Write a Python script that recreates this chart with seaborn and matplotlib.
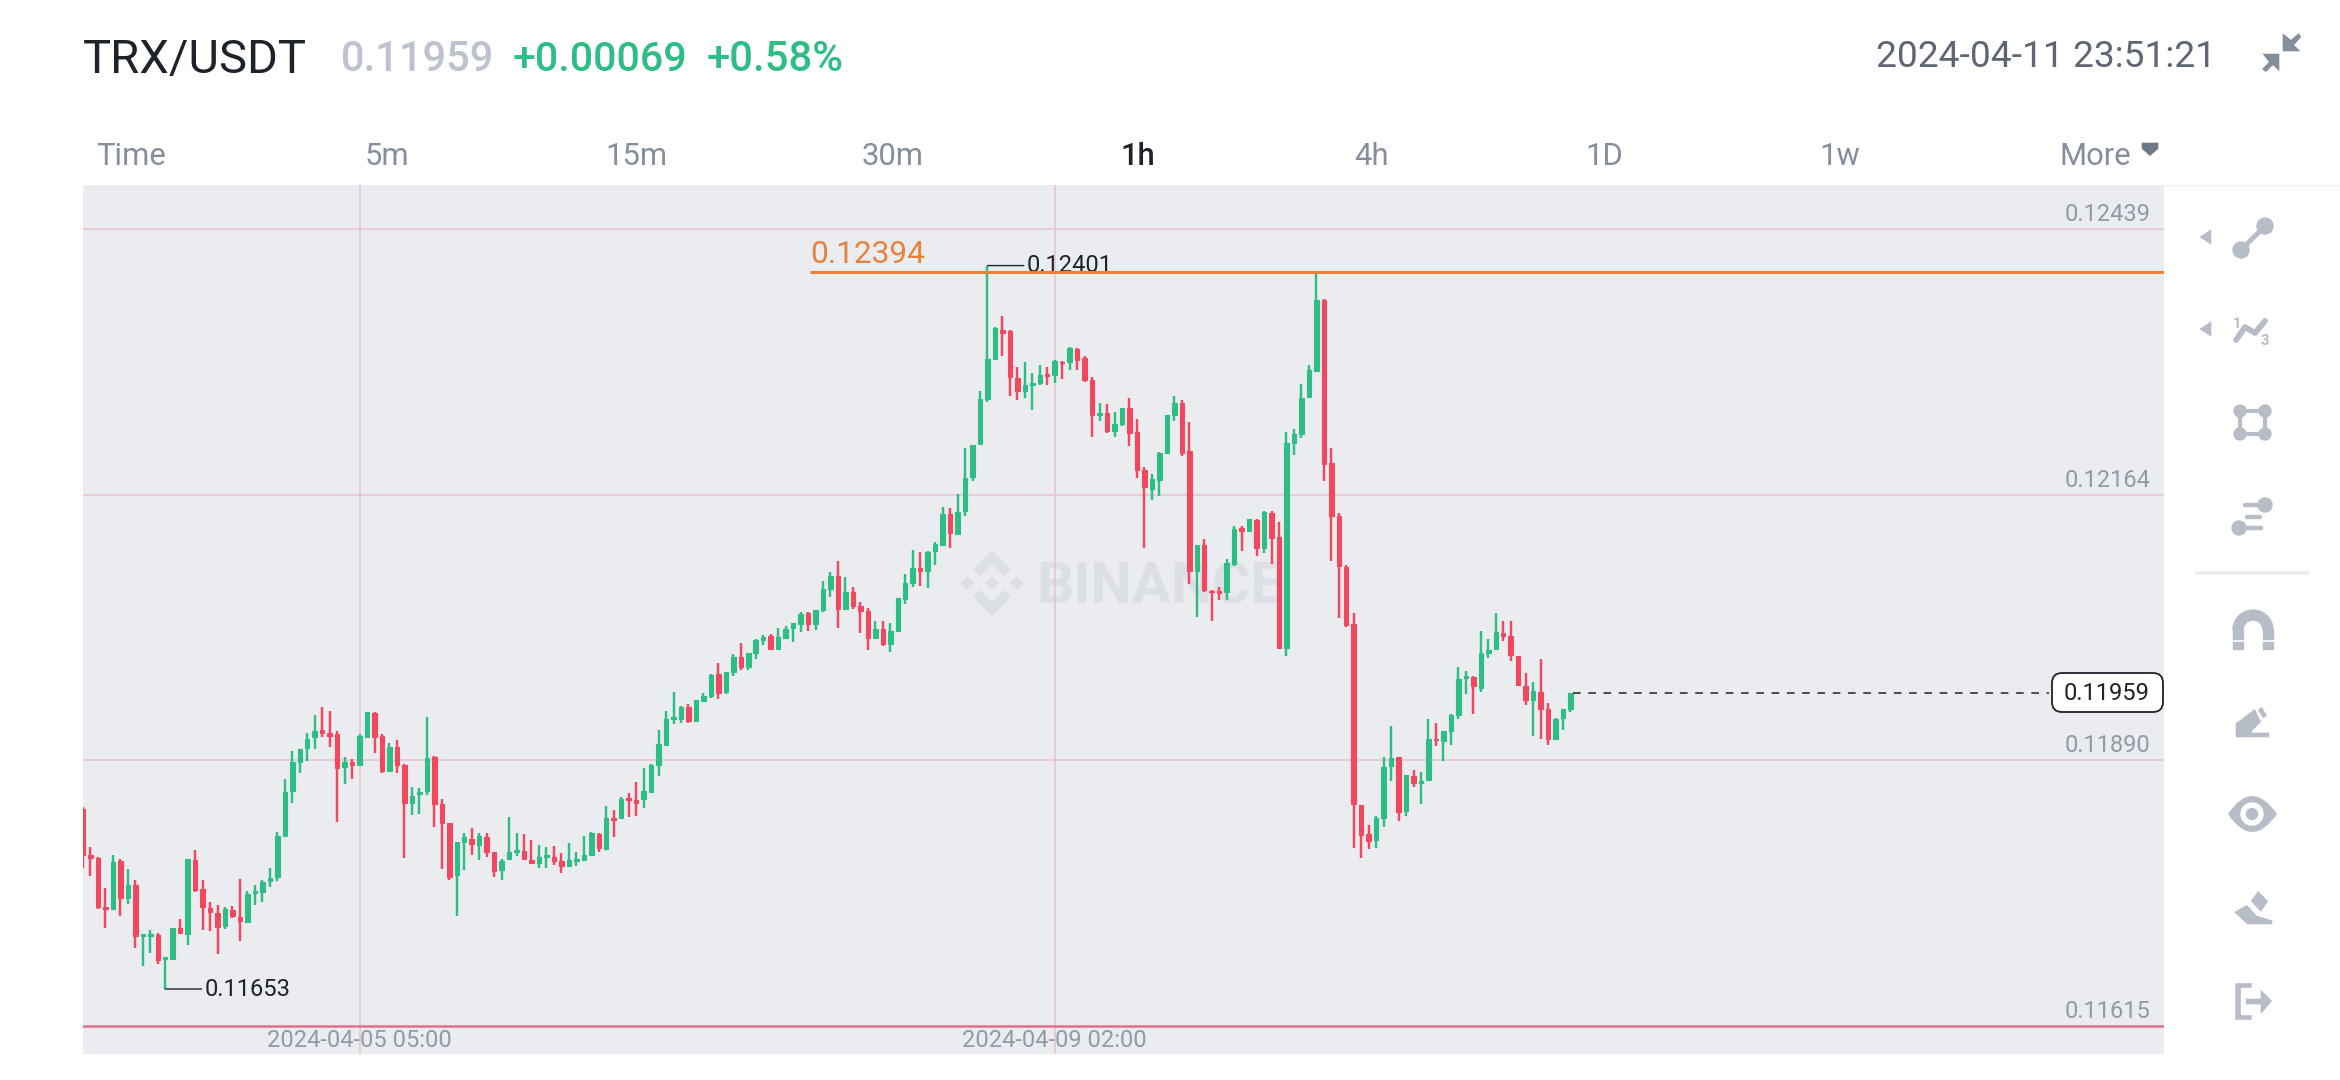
import numpy as np
import pandas as pd
import seaborn as sns
import matplotlib.pyplot as plt
from matplotlib.patches import Polygon, Circle, Rectangle, Wedge, FancyBboxPatch, PathPatch
from matplotlib.path import Path

# candles, in units of 0.00001 USDT
highs = np.array([
    11841,11800,11789,11757,11792,11787,11777,11766,11710,11714,
    11711,11686,11716,11725,11787,11797,11766,11743,11740,11738,
    11739,11767,11754,11761,11766,11778,11815,11870,11899,11901,
    11918,11936,11945,11940,11920,11893,11891,11917,11939,11939,
    11917,11907,11910,11886,11862,11861,11934,11894,11849,11825,
    11805,11814,11819,11814,11814,11795,11787,11831,11814,11813,
    11807,11802,11800,11801,11794,11804,11795,11811,11815,11814,
    11842,11838,11852,11856,11867,11881,11886,11921,11940,11960,
    11946,11948,11952,11959,11979,11990,11981,11999,12011,12000,
    12015,12019,12020,12026,12028,12031,12043,12043,12045,12075,
    12084,12096,12079,12069,12053,12047,12034,12034,12031,12057,
    12082,12107,12105,12106,12115,12151,12150,12165,12212,12215,
    12271,12401,12337,12349,12334,12296,12301,12290,12298,12296,
    12303,12302,12317,12316,12307,12286,12259,12258,12250,12254,
    12264,12242,12193,12186,12208,12247,12266,12262,12239,12112,
    12118,12066,12069,12098,12132,12132,12139,12139,12147,12147,
    12136,12229,12232,12279,12298,12394,12366,12212,12145,12091,
    12042,11843,11823,11832,11893,11925,11893,11874,11879,11877,
    11932,11928,11920,11937,11986,11982,11977,12023,12015,12042,
    12033,12033,11997,11980,11970,11994,11949,11933,11942,11959]) / 1e5
opens = np.array([
    11839,11792,11788,11738,11736,11785,11747,11761,11708,11708,
    11709,11684,11684,11716,11710,11786,11756,11737,11732,11718,
    11735,11727,11722,11752,11753,11765,11769,11811,11858,11888,
    11902,11914,11921,11918,11917,11883,11888,11885,11914,11938,
    11915,11878,11903,11885,11845,11855,11858,11893,11844,11825,
    11771,11805,11808,11802,11810,11795,11776,11787,11795,11796,
    11786,11783,11790,11789,11785,11780,11785,11786,11792,11813,
    11798,11830,11830,11850,11848,11849,11857,11885,11905,11932,
    11932,11945,11930,11951,11956,11979,11960,11981,11996,11986,
    12000,12014,12018,12005,12016,12026,12030,12042,12030,12045,
    12067,12080,12046,12063,12049,12044,12016,12025,12010,12023,
    12056,12073,12088,12085,12106,12112,12144,12123,12147,12182,
    12216,12263,12304,12334,12333,12285,12271,12278,12280,12289,
    12288,12301,12301,12315,12305,12283,12246,12249,12230,12237,
    12254,12229,12190,12170,12179,12207,12247,12259,12209,12085,
    12112,12065,12065,12064,12092,12130,12127,12138,12109,12145,
    12120,12006,12218,12227,12265,12292,12365,12197,12142,12089,
    12030,11843,11813,11807,11830,11884,11893,11837,11873,11866,
    11869,11912,11909,11920,11936,11975,11976,11964,12000,12005,
    12021,12018,11997,11966,11952,11960,11943,11911,11933,11943]) / 1e5
closes = np.array([
    11792,11788,11738,11736,11784,11747,11761,11708,11710,11710,
    11683,11686,11716,11711,11787,11755,11738,11733,11717,11736,
    11728,11723,11751,11754,11764,11768,11811,11857,11888,11901,
    11912,11920,11918,11915,11882,11888,11885,11915,11939,11914,
    11878,11903,11885,11845,11853,11857,11892,11844,11825,11769,
    11805,11810,11803,11811,11795,11775,11785,11795,11797,11787,
    11783,11789,11792,11785,11780,11786,11787,11792,11814,11799,
    11830,11828,11849,11848,11845,11858,11885,11906,11932,11934,
    11945,11930,11952,11956,11978,11959,11981,11996,11986,12000,
    12014,12017,12005,12017,12025,12031,12041,12030,12045,12067,
    12080,12046,12063,12049,12044,12016,12025,12010,12023,12057,
    12073,12088,12085,12105,12113,12144,12125,12146,12181,12215,
    12263,12304,12336,12331,12286,12271,12277,12280,12288,12287,
    12302,12300,12316,12303,12283,12246,12249,12230,12237,12254,
    12228,12190,12172,12180,12207,12246,12259,12207,12085,12112,
    12066,12063,12062,12093,12129,12127,12139,12109,12146,12119,
    12006,12218,12227,12264,12293,12365,12196,12142,12090,12029,
    11844,11812,11806,11830,11883,11892,11836,11874,11866,11868,
    11912,11910,11920,11936,11974,11977,11966,12000,12004,12022,
    12018,11998,11967,11952,11961,11943,11912,11932,11942,11959]) / 1e5
lows = np.array([
    11778,11770,11736,11716,11736,11728,11741,11695,11677,11690,
    11679,11653,11684,11710,11699,11753,11714,11713,11689,11715,
    11726,11703,11722,11740,11743,11758,11765,11811,11845,11876,
    11889,11901,11914,11903,11826,11865,11870,11885,11914,11897,
    11876,11877,11876,11788,11833,11834,11854,11820,11777,11766,
    11729,11776,11792,11786,11789,11769,11766,11787,11791,11787,
    11782,11778,11778,11781,11773,11780,11780,11786,11791,11795,
    11797,11810,11829,11831,11832,11840,11857,11873,11905,11927,
    11928,11928,11930,11950,11954,11953,11958,11977,11983,11983,
    11994,12009,12003,12004,12016,12012,12022,12023,12024,12043,
    12058,12026,12046,12046,12021,12004,12016,12008,12001,12023,
    12051,12069,12070,12068,12091,12112,12109,12122,12142,12178,
    12216,12260,12303,12308,12266,12262,12264,12252,12278,12277,
    12280,12284,12293,12293,12281,12224,12240,12228,12224,12235,
    12214,12181,12109,12159,12163,12207,12240,12204,12072,12038,
    12064,12033,12055,12055,12090,12106,12126,12101,12104,12092,
    12006,11997,12205,12223,12264,12292,12178,12096,12037,12027,
    11799,11788,11798,11799,11821,11868,11827,11832,11862,11844,
    11869,11904,11889,11905,11932,11958,11937,11960,11995,12005,
    12013,11992,11966,11947,11915,11912,11905,11911,11921,11939]) / 1e5

price_ticks = [0.12439, 0.12164, 0.11890, 0.11615]
date_labels = {38: "2024-04-05 05:00", 131: "2024-04-09 02:00"}
drawn_line = 0.123948  # shown rounded to 0.12394 on the chart
last_price = 0.11959
intervals = ["Time", "5m", "15m", "30m", "1h", "4h", "1D", "1w", "More"]
interval_x = [131, 387, 636, 893, 1138, 1371, 1604, 1840, 2095]

GREEN = "#2ebd85"
RED = "#f0485f"
PANEL = "#ebecf0"
GRID = "#e4c6d1"
ICON = "#b7bdc6"
GREY = "#929aa5"
INK = "#1e2329"
ORANGE = "#e8813a"

sns.set_theme(style="white", rc={"axes.linewidth": 0})
plt.rcParams["font.family"] = ["Roboto", "DejaVu Sans"]

fig = plt.figure(figsize=(23.4, 10.8), dpi=100, facecolor="white")

# price panel, placed in pixels of the 2340x1080 page
ax = fig.add_axes([83 / 2340, 1 - 1054 / 1080, (2164 - 83) / 2340, (1054 - 185) / 1080], zorder=1)
ax.set_facecolor(PANEL)

# page overlay for the header, toolbar and anything positioned in pixels
px = fig.add_axes([0, 0, 1, 1], zorder=5)
px.set_xlim(0, 2340)
px.set_ylim(1080, 0)
px.axis("off")

df = pd.DataFrame({"i": np.arange(1, len(opens) + 1), "open": opens, "close": closes})
df["base"] = df[["open", "close"]].min(axis=1)
df["body"] = (df["close"] - df["open"]).abs()
up = df[df["close"] >= df["open"]]
down = df[df["close"] < df["open"]]

ax.vlines(df["i"], lows, highs, colors=[GREEN if c >= o else RED for o, c in zip(opens, closes)],
          linewidth=1.75, zorder=3)
for part, col in [(up, GREEN), (down, RED)]:
    sns.barplot(data=part, x="i", y="body", bottom=part["base"].values, native_scale=True, errorbar=None,
                width=0.6, color=col, saturation=1, edgecolor=col, linewidth=0.8, zorder=4, ax=ax)

ax.set_xlim(1, 279.4)
ax.set_ylim(0.115858, 0.124843)
ax.set_xticks([])
ax.set_yticks([])
ax.set_xlabel("")
ax.set_ylabel("")

# grid
for p in price_ticks[:-1]:
    ax.axhline(p, color=GRID, lw=1.2, zorder=1)
ax.axhline(price_ticks[-1], color="#e0708f", lw=1.8, zorder=6)
for i in date_labels:
    ax.axvline(i, color=GRID, lw=1.2, zorder=1)

xf = ax.get_yaxis_transform()
for p in price_ticks:
    ax.annotate(f"{p:.5f}", (1, p), xycoords=xf, xytext=(-10, 5.5), textcoords="offset points",
                ha="right", va="baseline", fontsize=17, color=GREY, zorder=7)
for i, label in date_labels.items():
    ax.annotate(label, (i, 0), xycoords=ax.get_xaxis_transform(), xytext=(-0.5, 5), textcoords="offset points",
                ha="center", va="baseline", fontsize=17, color=GREY, zorder=7)

# high / low markers
for i, p, txt in [(12, 0.11653, "0.11653"), (122, 0.12401, "0.12401")]:
    ax.annotate(txt, (i, p), xytext=(28.5, 0), textcoords="offset points", ha="left", va="center",
                fontsize=17, color=INK, zorder=5,
                arrowprops=dict(arrowstyle="-", color=INK, lw=1, shrinkA=0, shrinkB=0))

# drawn line and its label
ax.plot([98.2, 279.4], [drawn_line, drawn_line], color=ORANGE, lw=2.2, zorder=6, solid_capstyle="butt")
ax.annotate("0.12394", (98.2, drawn_line), xytext=(0.5, 6), textcoords="offset points",
            ha="left", va="baseline", fontsize=22.8, color=ORANGE, zorder=7)

# last price
ax.plot([200.3, 264], [last_price, last_price], color=INK, lw=1.1, dashes=(5, 5), zorder=4)
px.add_patch(FancyBboxPatch((2060, 681), 95, 23, boxstyle="round,pad=8,rounding_size=10",
                            facecolor="white", edgecolor=INK, lw=1.3, zorder=2))
px.text(2107, 694, f"{last_price:.5f}", ha="center", va="center", fontsize=17, color=INK, zorder=3)

# watermark, behind the candles
wm = "#dcdfe4"
cx, cy = 992, 583
wm_shapes = [
    [(0, -33), (19, -14), (12, -7), (0, -19), (-12, -7), (-19, -14)],
    [(0, 33), (19, 14), (12, 7), (0, 19), (-12, 7), (-19, 14)],
    [(0, -7), (7, 0), (0, 7), (-7, 0)],
    [(-25, -7), (-18, 0), (-25, 7), (-32, 0)],
    [(25, -7), (32, 0), (25, 7), (18, 0)],
]
for pts in wm_shapes:
    ax.add_patch(Polygon([(cx + a, cy + b) for a, b in pts], closed=True, facecolor=wm, edgecolor="none",
                         transform=px.transData, zorder=0.5))
ax.text(1036, 604, "BINANCE", transform=px.transData, ha="left", va="baseline", fontsize=42,
        fontweight="bold", color=wm, zorder=0.5)

# header
px.text(83, 73, "TRX/USDT", fontsize=34, color=INK, va="baseline")
px.text(341, 71, "0.11959", fontsize=30, color="#bcc3cf", va="baseline", fontweight="medium")
px.text(513, 71, "+0.00069", fontsize=29.6, color=GREEN, va="baseline", fontweight="medium")
px.text(707, 71, "+0.58%", fontsize=30.2, color=GREEN, va="baseline", fontweight="medium")
px.text(2216, 67, "2024-04-11 23:51:21", fontsize=26.7, color="#5e6673", va="baseline", ha="right")

for name, x in zip(intervals, interval_x):
    active = name == "1h"
    px.text(x, 165, name, fontsize=22.3, ha="center", va="baseline", color=INK if active else "#848e9c",
            fontweight="medium" if active else "normal")
px.add_patch(Polygon([(2141, 142), (2159, 142), (2159, 149), (2150, 157), (2141, 149)], facecolor="#6f7885"))

# collapse icon
for pts in [[(2282, 52), (2302, 52), (2295, 45), (2302, 37), (2299, 32), (2291, 39), (2282, 32)],
            [(2280, 53), (2280, 73), (2273, 66), (2266, 73), (2261, 69), (2268, 62), (2261, 53)]]:
    px.add_patch(Polygon(pts, facecolor="#848e9c"))

# toolbar
px.plot([2164, 2340], [185, 185], color="#eef0f2", lw=1)
px.add_patch(Rectangle((2194, 570), 116, 5, facecolor="#eaecef"))
for y in (237, 329):
    px.add_patch(Polygon([(2198, y), (2212, y - 9), (2212, y + 9)], facecolor=ICON))
px.plot([2241, 2265], [250, 226], color=ICON, lw=3.5)
px.add_patch(Circle((2241, 250), 8, color=ICON))
px.add_patch(Circle((2265, 226), 8, color=ICON))
px.plot([2236, 2245, 2255, 2265], [340, 327, 333, 321], color=ICON, lw=4.2)
px.text(2237, 328, "1", fontsize=10.5, fontweight="bold", color=ICON, ha="center", va="baseline")
px.text(2265, 345, "3", fontsize=10.5, fontweight="bold", color=ICON, ha="center", va="baseline")
px.add_patch(Rectangle((2240, 411), 25, 23, facecolor="none", edgecolor=ICON, lw=3))
for corner in [(2240, 411), (2265, 411), (2240, 434), (2265, 434)]:
    px.add_patch(Circle(corner, 6, color=ICON))
px.plot([2245, 2265], [505, 505], color=ICON, lw=3.2)
px.plot([2247, 2260], [517, 517], color=ICON, lw=3.2)
px.plot([2239, 2261], [528, 528], color=ICON, lw=3.2)
px.add_patch(Circle((2265, 505), 7, color=ICON))
px.add_patch(Circle((2239, 528), 7, color=ICON))
px.add_patch(Wedge((2253, 630), 20, 180, 360, width=10, color=ICON))
for left in (2233, 2263):
    px.add_patch(Rectangle((left, 630), 10, 9, color=ICON))
    px.add_patch(Rectangle((left, 642), 10, 7, color=ICON))
px.add_patch(Polygon([(2235, 738), (2235, 723), (2255, 708), (2262, 722), (2252, 732), (2270, 732), (2270, 738)],
                     facecolor=ICON))
px.add_patch(Polygon([(2257, 710), (2262, 706), (2268, 716), (2263, 719)], facecolor=ICON))
eye = Path([(2228, 814), (2252, 778), (2277, 814), (2252, 850), (2228, 814)],
           [Path.MOVETO] + [Path.CURVE3] * 4)
px.add_patch(PathPatch(eye, facecolor=ICON, edgecolor="none"))
px.add_patch(Circle((2252, 814), 11, color="white"))
px.add_patch(Circle((2252, 814), 5.5, color=ICON))
px.add_patch(Polygon([(2250, 901), (2258, 890), (2269, 901), (2261, 913)], facecolor=ICON))
px.add_patch(Polygon([(2233, 912), (2247, 904), (2257, 915), (2273, 920), (2273, 925), (2247, 925)], facecolor=ICON))
px.add_patch(Polygon([(2234, 982), (2252, 982), (2252, 988), (2241, 988), (2241, 1014), (2252, 1014),
                      (2252, 1020), (2234, 1020)], facecolor=ICON))
px.add_patch(Polygon([(2245, 998), (2260, 998), (2260, 988), (2273, 1001), (2260, 1016), (2260, 1005), (2245, 1005)],
                     facecolor=ICON))

fig.savefig("out.png", dpi=100)
